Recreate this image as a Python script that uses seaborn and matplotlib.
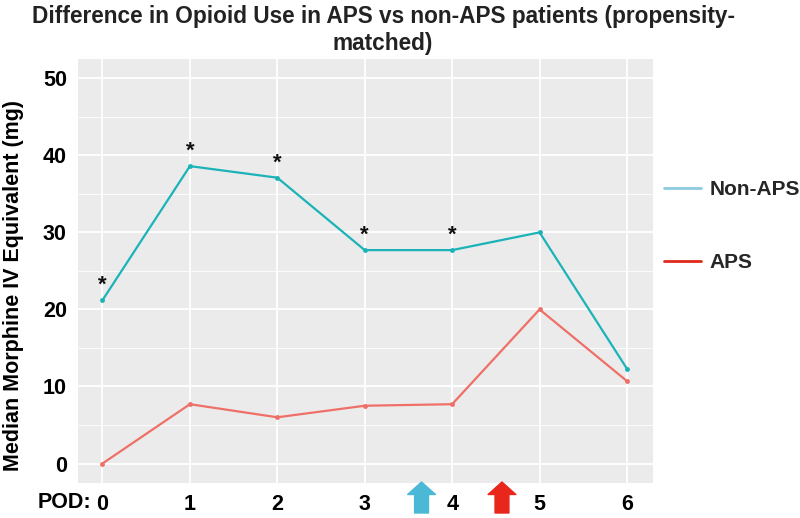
import numpy as np
import pandas as pd
import seaborn as sns
import matplotlib.pyplot as plt
from matplotlib.lines import Line2D
from matplotlib.ticker import MultipleLocator

# values
pod = [0, 1, 2, 3, 4, 5, 6]
non_aps = [21.2, 38.6, 37.1, 27.7, 27.7, 30.0, 12.3]
aps = [0.0, 7.7, 6.0, 7.5, 7.7, 20.0, 10.7]
signif = [True, True, True, True, True, False, False]
arrow_pos = [3.65, 4.57]

df = pd.DataFrame({"pod": pod * 2,
                   "mg": non_aps + aps,
                   "group": ["Non-APS"] * 7 + ["APS"] * 7})

sns.set_theme(style="darkgrid", rc={"axes.facecolor": "#ebebeb",
                                    "grid.color": "white"})
plt.rcParams['font.family'] = ['Liberation Sans', 'DejaVu Sans']

fig = plt.figure(figsize=(8, 5.18), dpi=100)
ax = fig.add_axes([0.0975, 0.068, 0.719, 0.818])

line_cols = {"Non-APS": "#1cb3b8", "APS": "#ef7068"}
sns.lineplot(data=df, x="pod", y="mg", hue="group", palette=line_cols,
             marker="o", markersize=3.5, markeredgewidth=0, linewidth=1.6,
             legend=False, ax=ax)

# asterisks for significant days
for x, y, s in zip(pod, non_aps, signif):
    if s:
        ax.text(x, y + 1.9, "*", ha="center", va="center", fontsize=16,
                fontweight="bold", color="#111111")

ax.set_xlim(-0.28, 6.3)
ax.set_ylim(-2.5, 52.5)
ax.set_xticks(pod)
ax.set_xticklabels([str(p) for p in pod])
ax.yaxis.set_major_locator(MultipleLocator(10))
ax.yaxis.set_minor_locator(MultipleLocator(5))
ax.grid(which="major", color="white", linewidth=1.3)
ax.grid(which="minor", axis="y", color="white", linewidth=0.6)
ax.tick_params(length=0, labelsize=15.5, pad=8)
for lab in ax.get_xticklabels() + ax.get_yticklabels():
    lab.set_fontweight("bold")
    lab.set_color("black")
ax.set_xlabel("")
ax.set_ylabel("Median Morphine IV Equivalent (mg)", fontsize=15.5,
              fontweight="bold", color="black")
ax.yaxis.set_label_coords(-0.094, 0.465)
for sp in ax.spines.values():
    sp.set_visible(False)

fig.text(38 / 800, 1 - 503 / 518, "POD:", fontsize=15.5, fontweight="bold",
         color="black", va="center", ha="left")

fig.text(383 / 800, 1 - 30 / 518,
         "Difference in Opioid Use in APS vs non-APS patients (propensity-\nmatched)",
         ha="center", va="center", fontsize=16.3, fontweight="bold",
         color="#222222", linespacing=1.2)

# arrows under the axis
for xp, col in zip(arrow_pos, ["#4bb9d6", "#e8261c"]):
    ax.annotate("", xy=(xp, 36), xytext=(xp, 5),
                xycoords=("data", "figure pixels"),
                textcoords=("data", "figure pixels"),
                annotation_clip=False,
                arrowprops=dict(arrowstyle="simple,head_width=1.0,head_length=0.45,tail_width=0.5",
                                mutation_scale=20, color=col, shrinkA=0, shrinkB=0))

handles = [Line2D([], [], color="#8ecae0", linewidth=2),
           Line2D([], [], color="#e0291e", linewidth=2)]
fig.legend(handles, ["Non-APS", "APS"], loc="center left",
           bbox_to_anchor=(0.806, 0.563), frameon=False,
           handlelength=1.8, handletextpad=0.4, labelspacing=2.6,
           prop={"weight": "bold", "size": 15})

fig.savefig("out.png", dpi=100)
